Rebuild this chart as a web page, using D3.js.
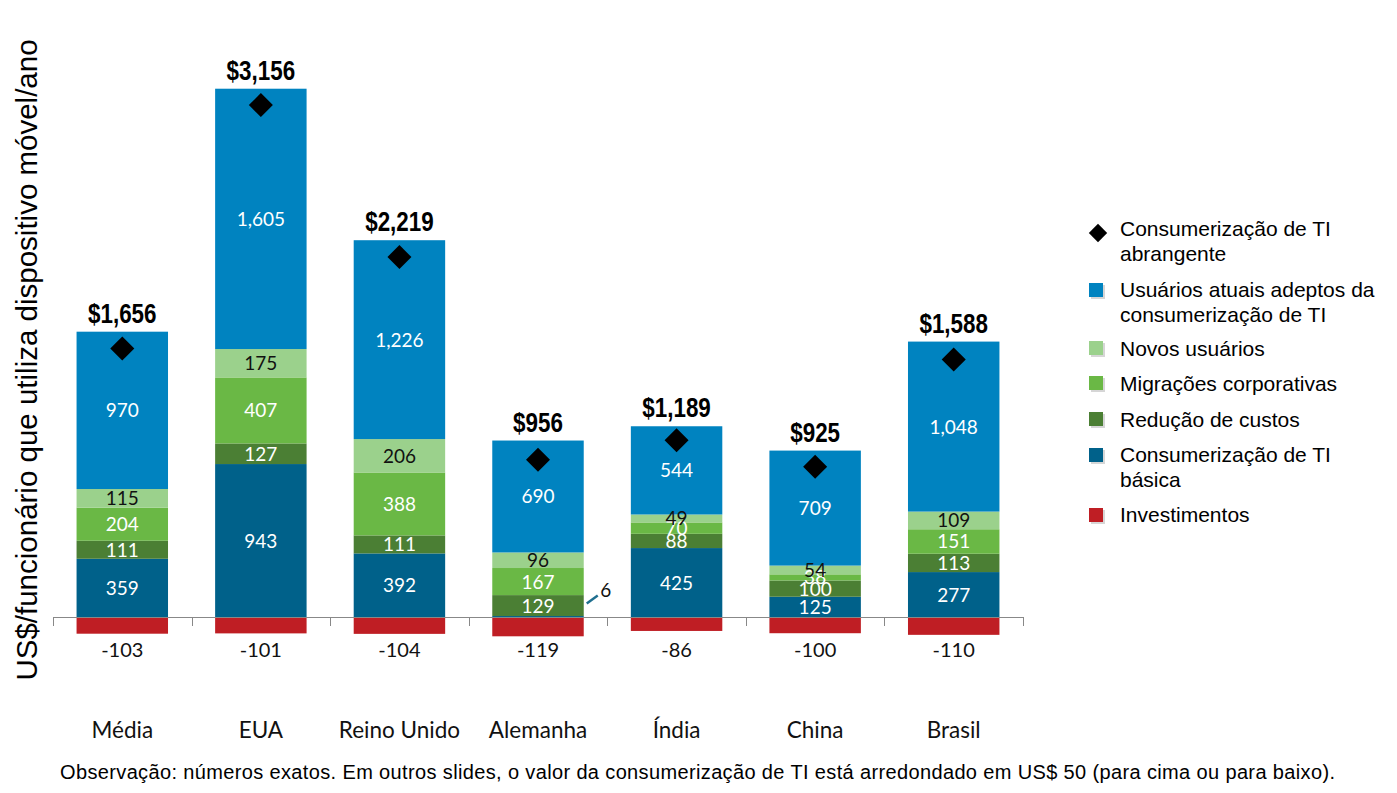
<!DOCTYPE html>
<html>
<head>
<meta charset="utf-8">
<script src="https://cdn.jsdelivr.net/npm/d3@7"></script>
<style>
  html, body { margin: 0; padding: 0; background: #fff; }
  svg { display: block; }
</style>
</head>
<body>
<svg id="chart" width="1397" height="793"></svg>
<script>
const categories = ["Média", "EUA", "Reino Unido", "Alemanha", "Índia", "China", "Brasil"];
const basica       = [359, 943, 392, 6, 425, 125, 277];
const reducao      = [111, 127, 111, 129, 88, 100, 113];
const migracoes    = [204, 407, 388, 167, 70, 38, 151];
const novos        = [115, 175, 206, 96, 49, 54, 109];
const atuais       = [970, 1605, 1226, 690, 544, 709, 1048];
const investimentos = [-103, -101, -104, -119, -86, -100, -110];
const abrangente   = [1656, 3156, 2219, 969, 1090, 926, 1588];
const totalLabels  = ["$1,656", "$3,156", "$2,219", "$956", "$1,189", "$925", "$1,588"];

const seriesNames = [
  "Consumerização de TI básica",
  "Redução de custos",
  "Migrações corporativas",
  "Novos usuários",
  "Usuários atuais adeptos da consumerização de TI"
];
const seriesData = [basica, reducao, migracoes, novos, atuais];
const seriesColors = ["#00618A", "#4B7F34", "#6AB845", "#9BD18C", "#0083C0"];
const seriesTextColors = ["#fff", "#fff", "#fff", "#111", "#fff"];
const investColor = "#BF1E24";

const svg = d3.select("#chart");
const baseY = 617;
const k = 0.1622;
const x = d3.scaleBand().domain(categories).range([53, 1023]).paddingInner(0.34).paddingOuter(0.17);
const y = d3.scaleLinear().domain([0, 1000]).range([baseY, baseY - 1000 * k]);

const fmt = d3.format(",");
const numFont = "Lato, 'Open Sans', sans-serif";
const arial = "'Liberation Sans', Arial, sans-serif";

// stacked positive segments
const stackRows = categories.map((c, i) => {
  const row = { cat: c };
  seriesNames.forEach((s, j) => row[s] = seriesData[j][i]);
  return row;
});
const stacked = d3.stack().keys(seriesNames)(stackRows);

const gBars = svg.append("g");
stacked.forEach((layer, j) => {
  gBars.selectAll(null).data(layer).enter().append("rect")
    .attr("x", d => x(d.data.cat))
    .attr("width", x.bandwidth())
    .attr("y", d => y(d[1]))
    .attr("height", d => y(d[0]) - y(d[1]))
    .attr("fill", seriesColors[j]);
});

// negative investments
gBars.selectAll(null).data(categories).enter().append("rect")
  .attr("x", d => x(d))
  .attr("width", x.bandwidth())
  .attr("y", y(0))
  .attr("height", (d, i) => y(investimentos[i]) - y(0))
  .attr("fill", investColor);

// axis line with ticks
const axisG = svg.append("g");
axisG.append("line").attr("x1", 53).attr("x2", 1023).attr("y1", baseY + 0.5).attr("y2", baseY + 0.5)
  .attr("stroke", "#888").attr("stroke-width", 1);
const tickXs = [53].concat(categories.map(c => x(c) + x.bandwidth() + x.step() * x.paddingInner() / 2));
axisG.selectAll(null).data(tickXs).enter().append("line")
  .attr("x1", d => Math.round(d) + 0.5).attr("x2", d => Math.round(d) + 0.5)
  .attr("y1", baseY).attr("y2", baseY + 9)
  .attr("stroke", "#888").attr("stroke-width", 1);

// segment labels
const gLab = svg.append("g").attr("font-family", numFont).attr("font-size", 19).attr("text-anchor", "middle");
stacked.forEach((layer, j) => {
  gLab.selectAll(null).data(layer).enter().filter(d => (d[1] - d[0]) >= 20).append("text")
    .attr("x", d => x(d.data.cat) + x.bandwidth() / 2)
    .attr("y", d => (y(d[0]) + y(d[1])) / 2 + 7)
    .attr("fill", seriesTextColors[j])
    .text(d => fmt(d[1] - d[0]));
});
// tiny segment label (outside with leader)
stacked[0].forEach((d, i) => {
  if (d[1] - d[0] < 20) {
    const xr = x(d.data.cat) + x.bandwidth();
    const yc = (y(d[0]) + y(d[1])) / 2;
    svg.append("line").attr("x1", xr + 3).attr("y1", yc - 13).attr("x2", xr + 14).attr("y2", yc - 21)
      .attr("stroke", "#1F6F8F").attr("stroke-width", 2.5);
    svg.append("text").attr("x", xr + 22).attr("y", yc - 20)
      .attr("font-family", numFont).attr("font-size", 19).attr("text-anchor", "middle")
      .attr("fill", "#111").text(fmt(d[1] - d[0]));
  }
});

// investment labels
svg.append("g").attr("font-family", numFont).attr("font-size", 20).attr("text-anchor", "middle")
  .selectAll(null).data(categories).enter().append("text")
  .attr("x", d => x(d) + x.bandwidth() / 2)
  .attr("y", 657)
  .attr("fill", "#111")
  .text((d, i) => investimentos[i]);

// diamonds
const diamondSym = d3.symbol().type(d3.symbolSquare).size(17 * 17);
svg.append("g").selectAll(null).data(categories).enter().append("path")
  .attr("d", diamondSym)
  .attr("transform", (d, i) => `translate(${x(d) + x.bandwidth() / 2},${y(abrangente[i])}) rotate(45)`)
  .attr("fill", "#000");

// total labels (condensed bold)
svg.append("g").selectAll(null).data(categories).enter().append("text")
  .attr("transform", (d, i) => `translate(${x(d) + x.bandwidth() / 2},${y(stacked[4][i][1]) - 9}) scale(0.8,1)`)
  .attr("text-anchor", "middle")
  .attr("font-family", "'Liberation Sans Narrow', 'Arial Narrow', 'Liberation Sans', sans-serif")
  .attr("font-weight", "bold")
  .attr("font-size", 28)
  .attr("fill", "#000")
  .text((d, i) => totalLabels[i]);

// category labels
svg.append("g").selectAll(null).data(categories).enter().append("text")
  .attr("x", d => x(d) + x.bandwidth() / 2)
  .attr("y", 738)
  .attr("text-anchor", "middle")
  .attr("font-family", numFont)
  .attr("font-size", 22.5)
  .attr("fill", "#111")
  .text(d => d);

// y axis title
svg.append("text")
  .attr("transform", "translate(37,360) rotate(-90)")
  .attr("text-anchor", "middle")
  .attr("font-family", arial)
  .attr("font-size", 29.5)
  .attr("fill", "#000")
  .text("US$/funcionário que utiliza dispositivo móvel/ano");

// legend
const legendItems = [
  { type: "diamond", color: "#000", lines: ["Consumerização de TI", "abrangente"], my: 233, ty: 236 },
  { type: "square", color: seriesColors[4], lines: ["Usuários atuais adeptos da", "consumerização de TI"], my: 291, ty: 297 },
  { type: "square", color: seriesColors[3], lines: ["Novos usuários"], my: 349, ty: 356 },
  { type: "square", color: seriesColors[2], lines: ["Migrações corporativas"], my: 384, ty: 391 },
  { type: "square", color: seriesColors[1], lines: ["Redução de custos"], my: 420, ty: 427 },
  { type: "square", color: seriesColors[0], lines: ["Consumerização de TI", "básica"], my: 456, ty: 462 },
  { type: "square", color: investColor, lines: ["Investimentos"], my: 516, ty: 522 }
];
const lg = svg.append("g").attr("font-family", arial).attr("font-size", 21);
legendItems.forEach(it => {
  if (it.type === "diamond") {
    lg.append("path").attr("d", d3.symbol().type(d3.symbolSquare).size(13 * 13))
      .attr("transform", `translate(${1098},${it.my}) rotate(45)`).attr("fill", "#000");
  } else {
    lg.append("rect").attr("x", 1091).attr("y", it.my - 6).attr("width", 14).attr("height", 14).attr("fill", "#bbb").attr("opacity", 0.6);
    lg.append("rect").attr("x", 1089).attr("y", it.my - 8).attr("width", 14).attr("height", 14).attr("fill", it.color);
  }
  it.lines.forEach((ln, li) => {
    lg.append("text").attr("x", 1120).attr("y", it.ty + li * 24.5).attr("fill", "#000").text(ln);
  });
});

// footnote
svg.append("text")
  .attr("x", 60).attr("y", 779)
  .attr("font-family", arial)
  .attr("font-size", 20)
  .attr("textLength", 1275)
  .attr("lengthAdjust", "spacing")
  .attr("fill", "#000")
  .text("Observação: números exatos. Em outros slides, o valor da consumerização de TI está arredondado em US$ 50 (para cima ou para baixo).");
</script>
</body>
</html>
